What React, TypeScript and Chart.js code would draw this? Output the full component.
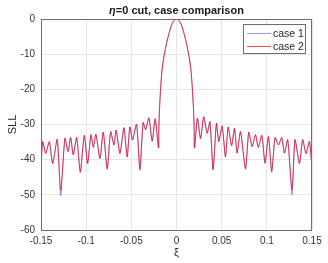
import React, { useEffect, useRef } from 'react';
import { Chart, registerables } from 'chart.js';

Chart.register(...registerables);

const xi = [
  -0.15, -0.1481, -0.1448, -0.1408, -0.1371, -0.132, -0.1282, -0.1235, -0.1201, -0.1172,
  -0.1143, -0.1105, -0.1065, -0.1021, -0.0984, -0.0947, -0.092, -0.0892, -0.0848, -0.0811,
  -0.0767, -0.0729, -0.0693, -0.0668, -0.0626, -0.0582, -0.0546, -0.0516, -0.0486, -0.0442,
  -0.0405, -0.0369, -0.0342, -0.0306, -0.0269, -0.0236, -0.0199,
  -0.0195, -0.0187, -0.0175, -0.016, -0.0138, -0.011, -0.0083, -0.0055, -0.003, 0,
  0.003, 0.0055, 0.0083, 0.011, 0.0138, 0.016, 0.0175, 0.0187, 0.0195, 0.0199,
  0.0232, 0.0266, 0.0302, 0.0339, 0.037, 0.0405, 0.0442, 0.0468, 0.0505, 0.0542,
  0.0572, 0.061, 0.0642, 0.0671, 0.0708, 0.0764, 0.08, 0.0837, 0.0874, 0.0905,
  0.0944, 0.098, 0.1018, 0.1054, 0.1091, 0.1129, 0.1165, 0.1195, 0.1231, 0.1279,
  0.1312, 0.1361, 0.1397, 0.1434, 0.1471, 0.15,
];

const case1 = [
  -42.6, -34.9, -38.2, -34.9, -41.2, -34.2, -50.2, -33.9, -37.7, -33.7,
  -38.6, -33.7, -43.7, -33.1, -41.2, -32.9, -36.5, -32.8, -39.8, -32.2,
  -42.8, -32.0, -35.8, -31.6, -38.3, -30.9, -39.3, -30.7, -34.4, -29.9,
  -43.0, -29.4, -31.5, -28.1, -34.8, -28.4, -36.8,
  -30.5, -25.0, -19.5, -14.5, -10.5, -6.9, -4.1, -1.7, -0.5, 0,
  -0.5, -1.7, -4.1, -6.9, -10.5, -14.5, -19.5, -25.0, -30.5, -36.8,
  -28.2, -34.1, -27.8, -32.5, -29.2, -43.0, -29.7, -34.9, -30.4, -39.3,
  -30.7, -36.0, -31.1, -38.2, -32.0, -42.8, -32.2, -36.3, -32.9, -36.5,
  -33.1, -41.1, -33.4, -43.6, -33.7, -35.8, -33.7, -38.2, -34.3, -50.0,
  -34.3, -41.2, -34.3, -38.3, -34.8, -42.6,
];

const case2 = [
  -42.0, -34.9, -38.2, -34.9, -41.0, -34.2, -48.8, -33.9, -37.7, -33.7,
  -38.6, -33.7, -43.4, -33.1, -41.0, -32.9, -36.5, -32.8, -39.6, -32.2,
  -42.5, -32.0, -35.8, -31.6, -38.2, -30.9, -39.1, -30.7, -34.4, -29.9,
  -42.7, -29.4, -31.5, -28.1, -34.7, -28.4, -36.6,
  -30.5, -25.0, -19.5, -14.5, -10.5, -6.9, -4.1, -1.7, -0.5, 0,
  -0.5, -1.7, -4.1, -6.9, -10.5, -14.5, -19.5, -25.0, -30.5, -36.6,
  -28.2, -34.0, -27.8, -32.5, -29.2, -42.7, -29.7, -34.9, -30.4, -39.1,
  -30.7, -36.0, -31.1, -38.1, -32.0, -42.5, -32.2, -36.3, -32.9, -36.5,
  -33.1, -40.9, -33.4, -43.3, -33.7, -35.8, -33.7, -38.1, -34.3, -48.6,
  -34.3, -41.0, -34.3, -38.3, -34.8, -42.1,
];

const seriesLabels = ['case 1', 'case 2'];
const seriesColors = ['rgba(0,0,255,0.4)', 'rgba(255,0,0,0.7)'];
const xTicks = [-0.15, -0.1, -0.05, 0, 0.05, 0.1, 0.15];
const yTicks = [-60, -50, -40, -30, -20, -10, 0];
const titleEta = 'η';
const titleRest = '=0 cut, case comparison';
const xTitle = 'ξ';
const yTitle = 'SLL';

const FONT = '"Liberation Sans", Arial, Helvetica, sans-serif';

const decor = {
  id: 'decor',
  afterDraw(chart: any) {
    const { ctx, chartArea } = chart;
    const { left, right, top, bottom } = chartArea;
    ctx.save();
    ctx.strokeStyle = '#6e6e6e';
    ctx.lineWidth = 1;
    ctx.strokeRect(Math.round(left) + 0.5, Math.round(top) + 0.5, Math.round(right - left) - 1, Math.round(bottom - top));

    ctx.fillStyle = '#1a1a1a';
    ctx.textBaseline = 'middle';
    ctx.font = `italic bold 11px ${FONT}`;
    const wEta = ctx.measureText(titleEta).width;
    ctx.font = `bold 11px ${FONT}`;
    const wRest = ctx.measureText(titleRest).width;
    const cx = (left + right) / 2;
    const tx = cx - (wEta + wRest) / 2;
    ctx.textAlign = 'left';
    ctx.font = `italic bold 11px ${FONT}`;
    ctx.fillText(titleEta, tx, 10.5);
    ctx.font = `bold 11px ${FONT}`;
    ctx.fillText(titleRest, tx + wEta, 10.5);

    ctx.fillStyle = '#262626';
    ctx.font = `11px ${FONT}`;
    ctx.textAlign = 'center';
    ctx.fillText(xTitle, cx, 253);
    ctx.save();
    ctx.translate(13, (top + bottom) / 2);
    ctx.rotate(-Math.PI / 2);
    ctx.fillText(yTitle, 0, 0);
    ctx.restore();

    const bx = 243.5, by = 24.5, bw = 62, bh = 29;
    ctx.fillStyle = '#ffffff';
    ctx.fillRect(bx, by, bw, bh);
    ctx.strokeStyle = '#6e6e6e';
    ctx.strokeRect(bx, by, bw, bh);
    ctx.font = `10.5px ${FONT}`;
    ctx.textAlign = 'left';
    seriesLabels.forEach((lab, i) => {
      const ly = 33.5 + i * 13;
      ctx.strokeStyle = seriesColors[i];
      ctx.lineWidth = 1;
      ctx.beginPath();
      ctx.moveTo(247, ly);
      ctx.lineTo(271, ly);
      ctx.stroke();
      ctx.fillStyle = '#262626';
      ctx.fillText(lab, 273, ly + 0.5);
    });
    ctx.restore();
  },
};

const fmt = (v: number) => String(Number(v.toFixed(2)));

export default function App() {
  const ref = useRef<HTMLCanvasElement>(null);
  useEffect(() => {
    if (!ref.current) return;
    const mk = (vals: number[]) => xi.map((x, i) => ({ x, y: vals[i] }));
    const chart = new Chart(ref.current, {
      type: 'line',
      data: {
        datasets: [
          {
            label: seriesLabels[0],
            data: mk(case1),
            borderColor: seriesColors[0],
            borderWidth: 1,
            pointRadius: 0,
            tension: 0.2,
            order: 1,
          },
          {
            label: seriesLabels[1],
            data: mk(case2),
            borderColor: seriesColors[1],
            borderWidth: 1,
            pointRadius: 0,
            tension: 0.2,
            order: 0,
          },
        ],
      },
      options: {
        responsive: false,
        animation: false,
        devicePixelRatio: 1,
        layout: { padding: { left: 0, right: 16, top: 19, bottom: 0 } },
        plugins: { legend: { display: false }, title: { display: false }, tooltip: { enabled: false } },
        scales: {
          x: {
            type: 'linear',
            min: -0.15,
            max: 0.15,
            afterBuildTicks: (s: any) => { s.ticks = xTicks.map((v) => ({ value: v })); },
            afterFit: (s: any) => { s.height = 33; },
            grid: { color: '#e6e6e6', drawTicks: false },
            border: { display: false },
            ticks: {
              padding: 5,
              color: '#333333',
              font: { family: FONT, size: 10 },
              maxRotation: 0,
              autoSkip: false,
              callback: (v: any) => fmt(Number(v)),
            },
          },
          y: {
            type: 'linear',
            min: -60,
            max: 0,
            afterBuildTicks: (s: any) => { s.ticks = yTicks.map((v) => ({ value: v })); },
            afterFit: (s: any) => { s.width = 41; },
            grid: { color: '#e6e6e6', drawTicks: false },
            border: { display: false },
            ticks: {
              padding: 6,
              color: '#333333',
              font: { family: FONT, size: 10 },
              autoSkip: false,
              callback: (v: any) => fmt(Number(v)),
            },
          },
        },
      },
      plugins: [decor],
    });
    return () => chart.destroy();
  }, []);
  return (
    <div style={{ position: 'fixed', left: 0, top: 0, width: 328, height: 263, background: '#fff' }}>
      <canvas ref={ref} width={328} height={263} style={{ display: 'block', width: 328, height: 263 }} />
    </div>
  );
}
